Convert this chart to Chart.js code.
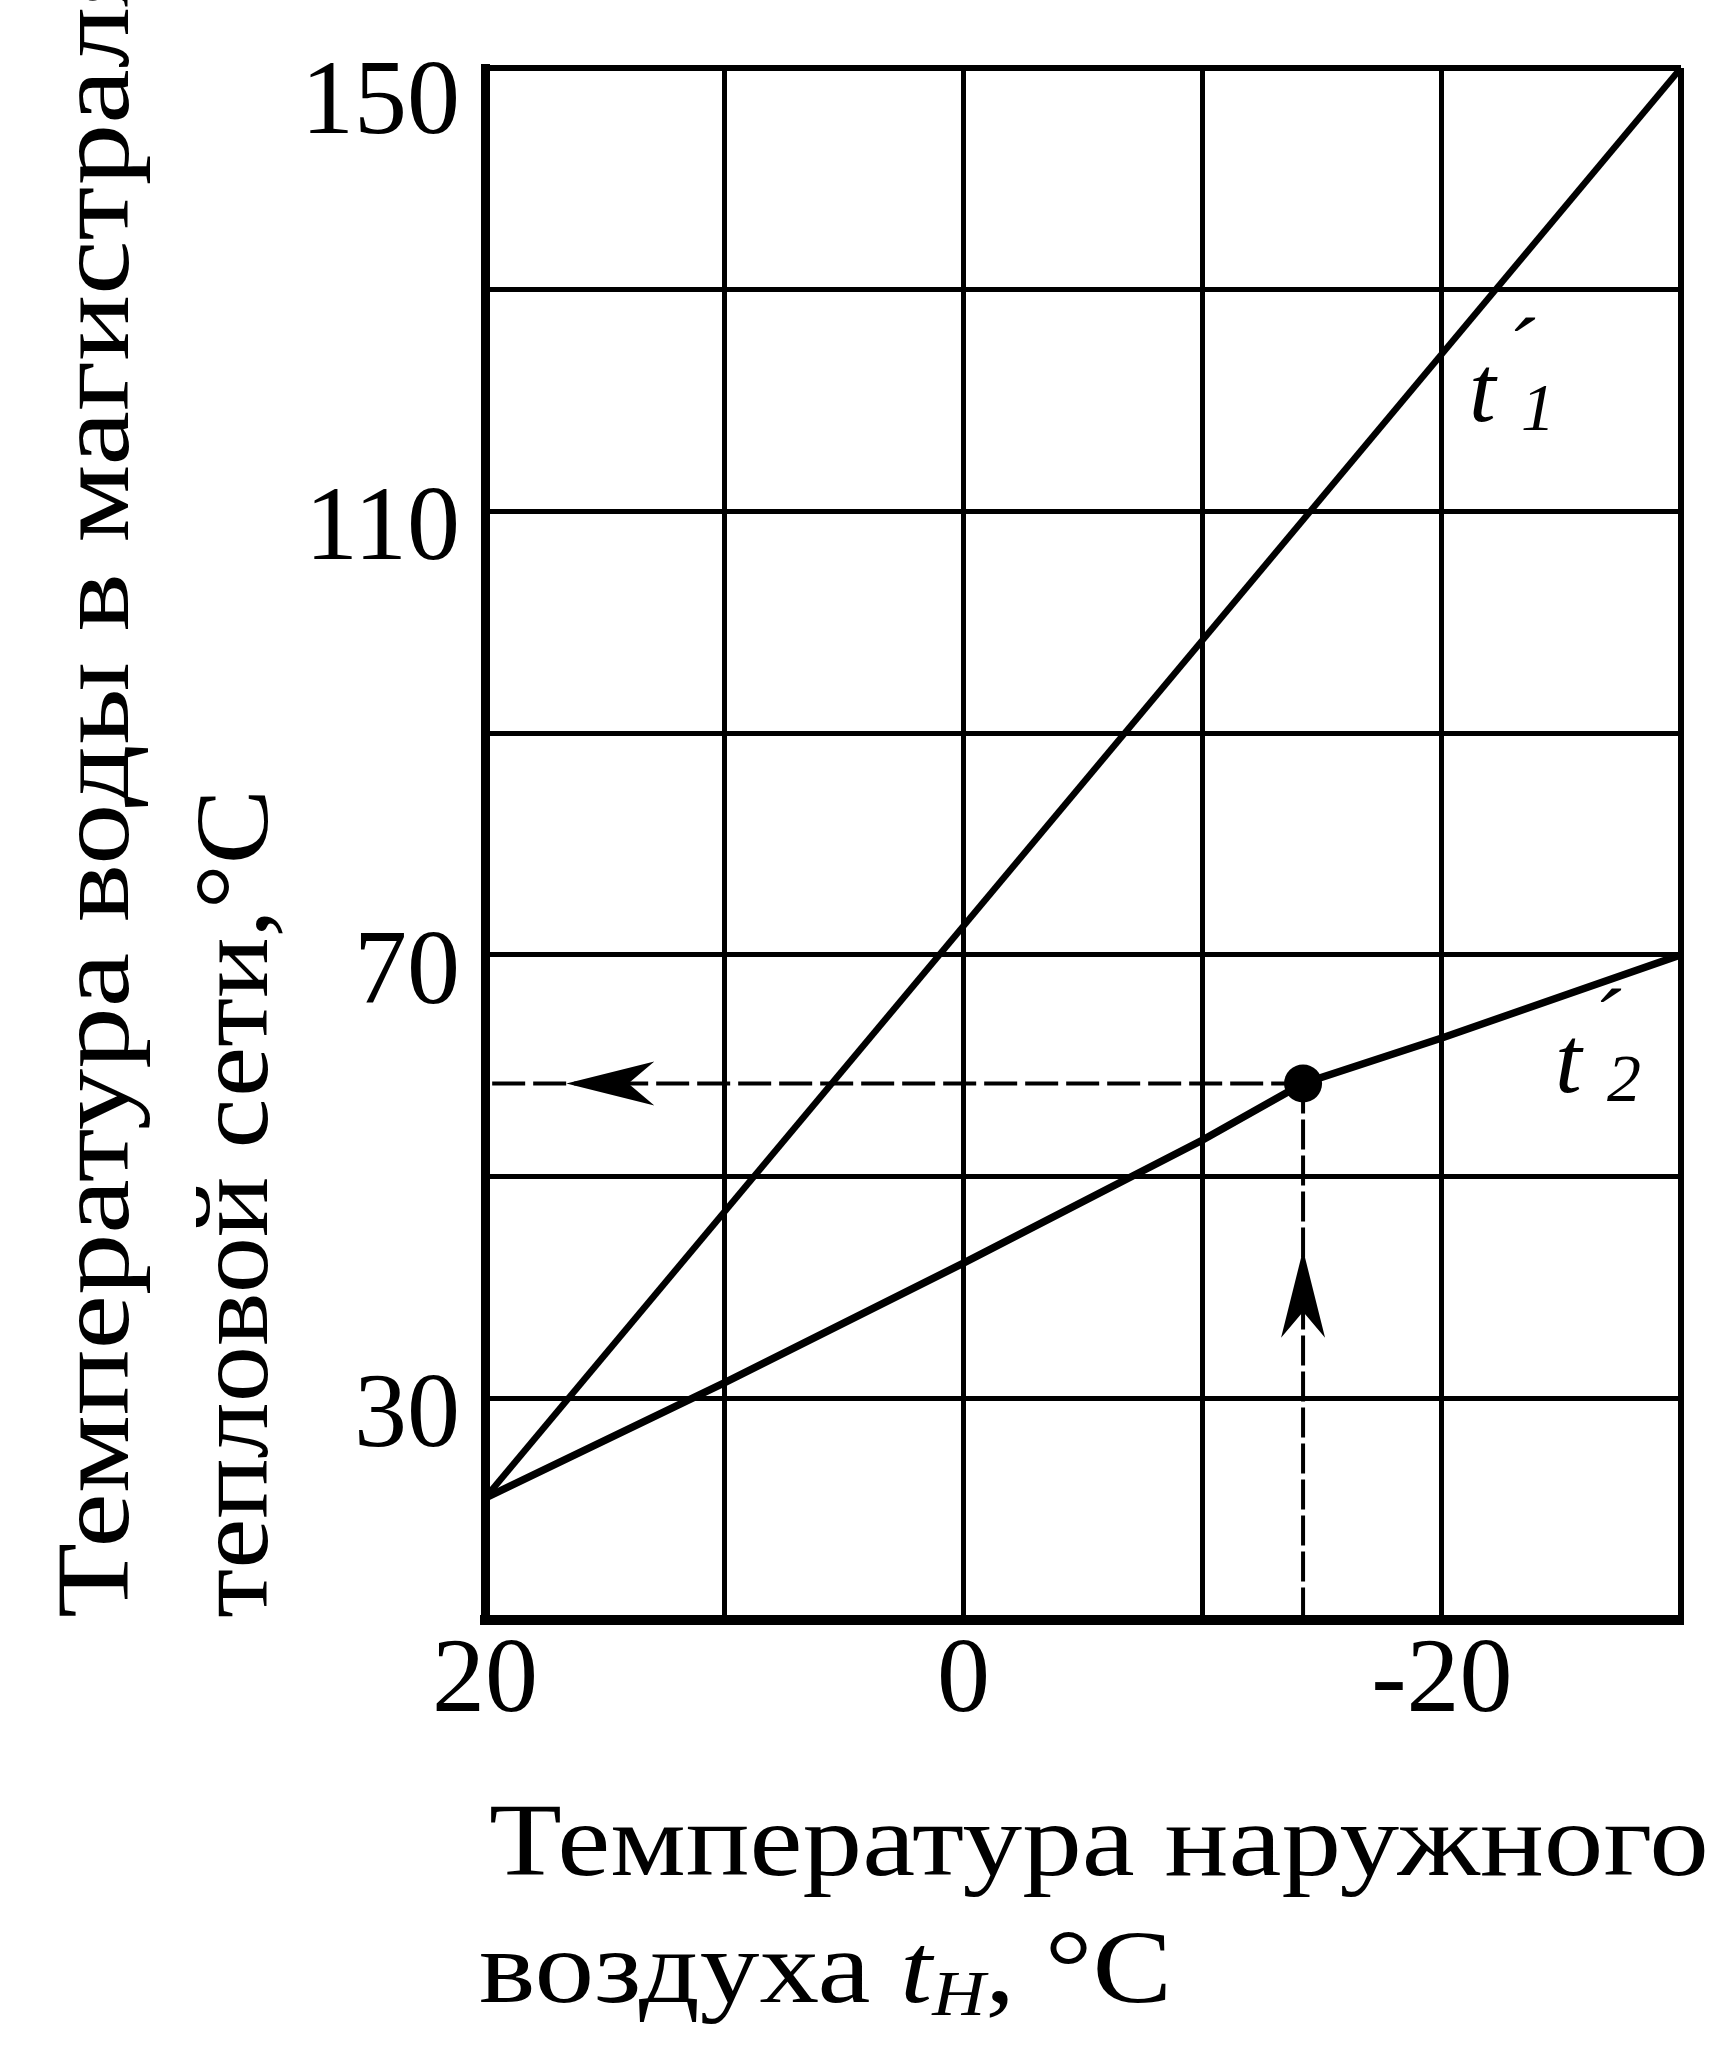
<!DOCTYPE html>
<html><head><meta charset="utf-8">
<script src="https://cdn.jsdelivr.net/npm/chart.js@4.4.1/dist/chart.umd.min.js"></script>
<style>html,body{margin:0;padding:0;background:#fff;}#wrap{width:1724px;height:2048px;}canvas{display:block;background:#fff;}</style>
</head><body><div id="wrap"><canvas id="c" width="1724" height="2048"></canvas></div>
<script>
// ---------------- data ----------------
const xLabelled = [20, 0, -20];            // labelled outdoor-air temperatures, °C
const yLabelled = [30, 70, 110, 150];      // labelled water temperatures, °C
const xMin = -30, xMax = 20, xStep = 10;
const yMin = 10, yMax = 150, yStep = 20;
// supply water t'1
const t1X = [20, -30];
const t1Y = [21, 150];
// return water t'2
const t2X = [20, 10, 0, -10, -14.2, -20, -30];
const t2Y = [21, 31.4, 42.2, 53.3, 58.4, 62.5, 70];
// operating point and read-off guides
const opX = [-14.2];
const opY = [58.4];
const guideHX = [19.7, -14.2];
const guideHY = [58.4, 58.4];
const guideVX = [-14.2, -14.2];
const guideVY = [58.4, 10];
const arrowTipX = [16.6, -14.2];
const arrowTipY = [58.4, 43.4];
const arrowDir = ['left', 'up'];
// curve labels
const curveSub = ['1', '2'];
const curveLabelX = [-21.3, -24.9];
const curveLabelY = [118.2, 57.6];
// axis titles
const yTitle = ['Температура воды в магистралях', 'тепловой сети,°С'];
const xTitle1 = 'Температура наружного';
const xTitle2 = ['воздуха ', 't', 'H', ', °С'];

// ---------------- drawing ----------------
const FONT = "'Liberation Serif', 'Times New Roman', serif";
const pts = (xs, ys) => xs.map((x, i) => ({x: x, y: ys[i]}));

const annot = {
  id: 'annot',
  afterDatasetsDraw(chart) {
    const c = chart.ctx, xs = chart.scales.x, ys = chart.scales.y;
    c.save();
    c.fillStyle = '#000';
    // arrowheads
    const L = 88, W = 22, N = 62;
    for (let i = 0; i < arrowTipX.length; i++) {
      const tx = xs.getPixelForValue(arrowTipX[i]);
      const ty = ys.getPixelForValue(arrowTipY[i]);
      const d = arrowDir[i] === 'left' ? [-1, 0] : [0, -1];
      const n = [-d[1], d[0]];
      c.beginPath();
      c.moveTo(tx, ty);
      c.lineTo(tx - d[0] * L + n[0] * W, ty - d[1] * L + n[1] * W);
      c.lineTo(tx - d[0] * N, ty - d[1] * N);
      c.lineTo(tx - d[0] * L - n[0] * W, ty - d[1] * L - n[1] * W);
      c.closePath();
      c.fill();
    }
    // curve labels t'1, t'2
    c.textAlign = 'left';
    c.textBaseline = 'alphabetic';
    for (let i = 0; i < curveSub.length; i++) {
      const px = xs.getPixelForValue(curveLabelX[i]);
      const py = ys.getPixelForValue(curveLabelY[i]);
      c.font = 'italic 96px ' + FONT;
      c.fillText('t', px - 4, py);
      c.font = 'italic 90px ' + FONT;
      c.fillText('´', px + 31, py - 40);
      c.font = 'italic 68px ' + FONT;
      c.fillText(curveSub[i], px + 48, py + 9);
    }
    c.restore();
  },
  afterDraw(chart) {
    const c = chart.ctx, a = chart.chartArea;
    c.save();
    c.fillStyle = '#000';
    c.textAlign = 'left';
    c.textBaseline = 'alphabetic';
    // y title (rotated)
    c.font = '104px ' + FONT;
    const sy = 829 / c.measureText(yTitle[1]).width;
    const yScaleX = [sy * 1.09, sy];
    const yBase = [128, 267];
    for (let i = 0; i < yTitle.length; i++) {
      c.save();
      c.translate(yBase[i], a.bottom - 2);
      c.rotate(-Math.PI / 2);
      c.scale(yScaleX[i], 1);
      c.fillText(yTitle[i], 0, 0);
      c.restore();
    }
    // x title
    c.font = '104px ' + FONT;
    const sx = 1220 / c.measureText(xTitle1).width;
    const x0 = a.left + 4;
    c.save();
    c.translate(x0, a.bottom + 255);
    c.scale(sx, 1);
    c.fillText(xTitle1, 0, 0);
    c.restore();
    c.save();
    c.translate(x0 - 10, a.bottom + 382);
    c.scale(sx, 1);
    let x = 0;
    c.font = '104px ' + FONT;
    c.fillText(xTitle2[0], x, 0); x += c.measureText(xTitle2[0]).width;
    c.font = 'italic 100px ' + FONT;
    c.fillText(xTitle2[1], x, 0); x += c.measureText(xTitle2[1]).width;
    c.font = 'italic 64px ' + FONT;
    c.fillText(xTitle2[2], x, 13); x += c.measureText(xTitle2[2]).width;
    c.font = '104px ' + FONT;
    c.fillText(xTitle2[3], x, 0);
    c.restore();
    c.restore();
  }
};

new Chart(document.getElementById('c').getContext('2d'), {
  type: 'scatter',
  data: {
    datasets: [
      {label: 'point', data: pts(opX, opY), showLine: false, pointRadius: 19, pointBackgroundColor: '#000', pointBorderWidth: 0, order: 0},
      {label: "t'2", data: pts(t2X, t2Y), showLine: true, borderColor: '#000', borderWidth: 7.5, pointRadius: 0, tension: 0, order: 1},
      {label: "t'1", data: pts(t1X, t1Y), showLine: true, borderColor: '#000', borderWidth: 6.5, pointRadius: 0, tension: 0, order: 2},
      {label: 'h', data: pts(guideHX, guideHY), showLine: true, borderColor: '#000', borderWidth: 4, borderDash: [33, 8], pointRadius: 0, order: 3},
      {label: 'v', data: pts(guideVX, guideVY), showLine: true, borderColor: '#000', borderWidth: 4, borderDash: [30, 6], pointRadius: 0, order: 3}
    ]
  },
  options: {
    responsive: false,
    animation: false,
    devicePixelRatio: 1,
    events: [],
    layout: {padding: {top: 68, right: 43, left: 0, bottom: 0}},
    plugins: {legend: {display: false}, tooltip: {enabled: false}, title: {display: false}},
    scales: {
      x: {
        type: 'linear', reverse: true, min: xMin, max: xMax,
        afterFit: s => { s.height = 428; },
        ticks: {
          stepSize: xStep, autoSkip: false, maxRotation: 0, padding: 0, color: '#000',
          font: {family: FONT, size: 106, lineHeight: 1.2},
          callback: v => xLabelled.includes(Math.round(v)) ? String(Math.round(v)) : ''
        },
        grid: {color: '#000', drawTicks: false, lineWidth: c => (c.tick && Math.round(c.tick.value) === xMin) ? 6 : 5},
        border: {display: true, color: '#000', width: 10}
      },
      y: {
        type: 'linear', min: yMin, max: yMax,
        afterFit: s => { s.width = 485; },
        ticks: {
          stepSize: yStep, autoSkip: false, padding: 25, labelOffset: 20, color: '#000',
          font: c => ({family: FONT, size: 106, lineHeight: (c.tick && Math.round(c.tick.value) === yMax) ? 0.33 : 1.2}),
          callback: v => {
            const r = Math.round(v);
            if (r === yMax) return ['', String(r)];
            return yLabelled.includes(r) ? String(r) : '';
          }
        },
        grid: {color: '#000', drawTicks: false, lineWidth: c => (c.tick && Math.round(c.tick.value) === yMax) ? 6 : 5},
        border: {display: true, color: '#000', width: 9}
      }
    }
  },
  plugins: [annot]
});
</script>
</body></html>
